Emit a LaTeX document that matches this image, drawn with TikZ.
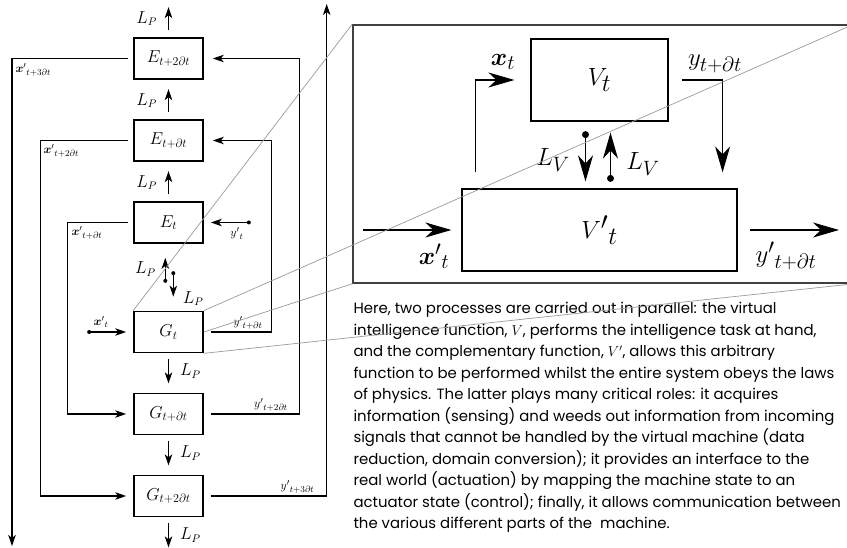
\documentclass[tikz,border=0pt]{standalone}
\usepackage{amsmath}
\usepackage{fontspec}
\newfontfamily\notefont{Poppins}
\usetikzlibrary{arrows.meta,positioning}

\newcommand{\xpr}[1]{{\boldsymbol{x}'}_{#1}}
\newcommand{\ypr}[1]{{y'}_{#1}}

\tikzset{
  stage/.style={draw, line width=1.7pt, minimum width=69pt, minimum height=41pt,
    font=\fontsize{17}{20}\selectfont},
  vbox/.style={draw, line width=1.2pt, font=\fontsize{34}{40}\selectfont},
  sig/.style={font=\fontsize{13}{15}\selectfont, inner sep=1pt},
  bigsig/.style={font=\fontsize{30}{34}\selectfont, inner sep=1pt},
  lp/.style={font=\fontsize{16}{18}\selectfont, inner sep=1pt},
  big/.style={-{Stealth[length=26pt,width=15pt,inset=8pt]}},
  lensline/.style={draw=gray!80, line width=0.7pt},
}

\begin{document}
\begin{tikzpicture}[x=1pt, y=-1pt, node distance=82pt, line width=1.1pt,
    >={Stealth[length=11pt,width=7.5pt,inset=3pt]}]
  \useasboundingbox (0,0) rectangle (847,548);

  % left column: estimators on top, generators below
  \node [stage] (Etwo) at (168.5,58.5) {$E_{t+2\partial t}$};
  \node [stage, below of=Etwo] (Eone) {$E_{t+\partial t}$};
  \node [stage, below of=Eone] (Ezero) {$E_t$};
  \node [stage, below of=Ezero, yshift=-27.5pt] (Gzero) {$G_t$};
  \node [stage, below of=Gzero] (Gone) {$G_{t+\partial t}$};
  \node [stage, below of=Gone] (Gtwo) {$G_{t+2\partial t}$};

  \foreach \n in {Etwo,Eone,Ezero}
    \draw [->] ([yshift=7pt]\n.north) -- node [lp, left=10pt] (lp-\n) {$L_P$} ([yshift=30pt]\n.north);
  \foreach \n in {Gzero,Gone,Gtwo}
    \draw [->] ([yshift=-6pt]\n.south) -- node [lp, right=10pt] (lp-\n) {$L_P$} ([yshift=-30pt]\n.south);

  % exchange between E_t and G_t
  \coordinate (pu) at ([xshift=-3.2pt,yshift=-37pt]Ezero.south);
  \coordinate (pd) at ([xshift=4.8pt,yshift=37.5pt]Gzero.north);
  \draw [->] (pu) -- node [lp, left=8pt] (lp-up) {$L_P$} ([xshift=-3.2pt,yshift=-14pt]Ezero.south);
  \draw [->] (pd) -- ([xshift=4.8pt,yshift=14pt]Gzero.north)
    node [lp, right=8pt, yshift=-2pt] (lp-down) {$L_P$};
  \fill (pu) circle (2pt) (pd) circle (2pt);

  % feedback on the left
  \coordinate (xout) at (12,546);
  \draw [->] ([xshift=-5pt]Etwo.west) -| (xout);
  \draw [->] ([xshift=-5pt]Eone.west) -- ++(-88pt,0) |- ([xshift=-7pt]Gtwo.west);
  \draw [->] ([xshift=-5pt]Ezero.west) -- ++(-61pt,0) |- ([xshift=-7pt]Gone.west);
  \coordinate (xin) at ([xshift=-44pt]Gzero.west);
  \draw [->] (xin) -- ([xshift=-7pt]Gzero.west);
  \fill (xin) circle (2pt);

  \node [sig, anchor=north west] (x3) at (14,62) {$\xpr{t+3\partial t}$};
  \node [sig, anchor=north west] (x2) at (42,143) {$\xpr{t+2\partial t}$};
  \node [sig, anchor=north west] (x1) at (70,225) {$\xpr{t+\partial t}$};
  \node [sig, anchor=south] (x0) at (101,329) {$\xpr{t}$};

  % feedback on the right
  \coordinate (yout) at (326.7,4);
  \coordinate (yin) at ([xshift=45pt]Ezero.east);
  \draw [->] (yin) -- ([xshift=7pt]Ezero.east);
  \fill (yin) circle (2pt);
  \draw [->] ([xshift=7pt]Gzero.east) -- ++(61pt,0) |- ([xshift=9pt]Eone.east);
  \draw [->] ([xshift=7pt]Gone.east) -- ++(88.5pt,0) |- ([xshift=9pt]Etwo.east);
  \draw [->] ([xshift=7pt]Gtwo.east) -| (yout);

  \node [sig, anchor=north] (y0) at (237,226) {$\ypr{t}$};
  \node [sig, anchor=south] (y1) at (248,331) {$\ypr{t+\partial t}$};
  \node [sig, anchor=south] (y2) at (271,413) {$\ypr{t+2\partial t}$};
  \node [sig, anchor=south] (y3) at (297.5,495) {$\ypr{t+3\partial t}$};

  % magnified view of one step
  \node [draw=black!75, line width=1.6pt, minimum width=500pt, minimum height=258pt] (lens) at (603,154) {};
  \node [vbox, minimum width=137pt, minimum height=82pt] (Vt) at (599.5,80) {$V_t$};
  \node [vbox, minimum width=275pt, minimum height=82pt] (Vp) at (599.5,230) {${V'}_{t}$};

  \coordinate (xtin) at ([xshift=14pt,yshift=16pt]Vp.north west);
  \coordinate (ytout) at ([xshift=-15pt,yshift=16pt]Vp.north east);
  \draw [big] (xtin) |- ([xshift=-16pt]Vt.west);
  \draw [big] ([xshift=13pt]Vt.east) -| (ytout);
  \node [bigsig] (xt) at (503,62) {$\boldsymbol{x}_t$};
  \node [bigsig] (yt) at (715,64) {$y_{t+\partial t}$};

  \coordinate (lvd) at ([xshift=-14pt,yshift=-13pt]Vt.south);
  \coordinate (lvu) at ([xshift=11pt,yshift=10pt]Vp.north);
  \draw [big] (lvd) -- ([xshift=-14pt,yshift=7pt]Vp.north);
  \draw [big] (lvu) -- ([xshift=11pt,yshift=-11pt]Vt.south);
  \fill (lvd) circle (3.5pt) (lvu) circle (3.5pt);
  \node [bigsig] (lv1) at (553,160) {$L_V$};
  \node [bigsig] (lv2) at (643,164) {$L_V$};

  \coordinate (xpin) at (363,230);
  \coordinate (ypout) at (839,230);
  \draw [big] (xpin) -- ([xshift=-10pt]Vp.west);
  \draw [big] ([xshift=12pt]Vp.east) -- (ypout);
  \node [bigsig] (xpt) at (434,256) {$\xpr{t}$};
  \node [bigsig] (ypt) at (786,256) {$\ypr{t+\partial t}$};

  \node [anchor=north west, align=left, inner sep=0pt,
    font=\notefont\fontsize{14.9}{21.5}\selectfont] (note) at (353,302)
    {Here, two processes are carried out in parallel: the virtual\\
     intelligence function, $V$, performs the intelligence task at hand,\\
     and the complementary function, $V'$, allows this arbitrary\\
     function to be performed whilst the entire system obeys the laws\\
     of physics. The latter plays many critical roles: it acquires\\
     information (sensing) and weeds out information from incoming\\
     signals that cannot be handled by the virtual machine (data\\
     reduction, domain conversion); it provides an interface to the\\
     real world (actuation) by mapping the machine state to an\\
     actuator state (control); finally, it allows communication between\\
     the various different parts of the \ machine.};

  % guide lines from G_t out to the magnified view
  \draw [lensline] (Gzero.north west) -- (lens.north west);
  \draw [lensline] (Gzero.north east) -- (lens.north east);
  \draw [lensline] (Gzero.east) -- (lens.south west);
  \draw [lensline] (Gzero.south east) -- (lens.south east);
\end{tikzpicture}
\end{document}
